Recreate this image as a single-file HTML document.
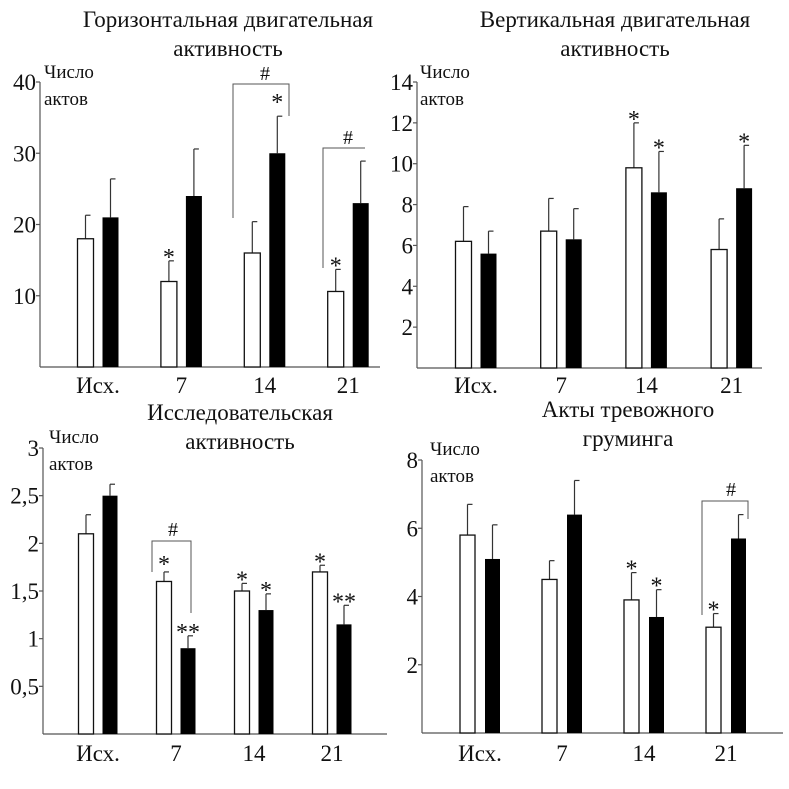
<!DOCTYPE html>
<html><head><meta charset="utf-8"><style>
html,body{margin:0;padding:0;background:#fff;}
svg{display:block;font-family:"Liberation Serif","DejaVu Serif",serif;}
</style></head><body>
<svg id="c" width="789" height="789" viewBox="0 0 789 789"></svg>
<script>
const categories = ["Исх.", "7", "14", "21"];
// Panel 1: horizontal
const p1White = [18, 12, 16, 10.6];
const p1Black = [21, 24, 30, 23];
const p1WhiteErr = [21.3, 14.9, 20.4, 13.7];
const p1BlackErr = [26.4, 30.6, 35.2, 28.9];
const p1Ticks = ["10", "20", "30", "40"];
const p1TickVals = [10, 20, 30, 40];
// Panel 2: vertical
const p2White = [6.2, 6.7, 9.8, 5.8];
const p2Black = [5.6, 6.3, 8.6, 8.8];
const p2WhiteErr = [7.9, 8.3, 12.0, 7.3];
const p2BlackErr = [6.7, 7.8, 10.6, 10.9];
const p2Ticks = ["2", "4", "6", "8", "10", "12", "14"];
const p2TickVals = [2, 4, 6, 8, 10, 12, 14];
// Panel 3: exploratory
const p3White = [2.1, 1.6, 1.5, 1.7];
const p3Black = [2.5, 0.9, 1.3, 1.15];
const p3WhiteErr = [2.3, 1.7, 1.58, 1.77];
const p3BlackErr = [2.62, 1.03, 1.47, 1.35];
const p3Ticks = ["0,5", "1", "1,5", "2", "2,5", "3"];
const p3TickVals = [0.5, 1, 1.5, 2, 2.5, 3];
// Panel 4: grooming
const p4White = [5.8, 4.5, 3.9, 3.1];
const p4Black = [5.1, 6.4, 3.4, 5.7];
const p4WhiteErr = [6.7, 5.05, 4.7, 3.5];
const p4BlackErr = [6.1, 7.4, 4.2, 6.4];
const p4Ticks = ["2", "4", "6", "8"];
const p4TickVals = [2, 4, 6, 8];

const svg = document.getElementById('c');
const NS = "http://www.w3.org/2000/svg";
function el(tag, attrs, text){
  const e = document.createElementNS(NS, tag);
  for (const k in attrs) e.setAttribute(k, attrs[k]);
  if (text !== undefined) e.textContent = text;
  svg.appendChild(e);
  return e;
}
function txt(x,y,s,size,anchor,name){
  const t = el('text',{x:x,y:y,'font-size':size,'text-anchor':anchor||'middle',fill:'#111'},s);
  
  
  return t;
}
function line(x1,y1,x2,y2,name,col){
  const l = el('line',{x1:x1,y1:y1,x2:x2,y2:y2,stroke:col||'#333','stroke-width':1.2});
  
  
  return l;
}

function panel(cfg){
  const yS = v => cfg.y0 - (v / cfg.max) * (cfg.y0 - cfg.yTop);
  const p = cfg.id;
  line(cfg.ax, cfg.yTop, cfg.ax, cfg.y0, p+'-y-axis', '#555');
  line(cfg.ax, cfg.y0, cfg.axEnd, cfg.y0, p+'-x-axis', '#555');
  cfg.tickVals.forEach((v,i)=>{
    line(cfg.ax-4, yS(v), cfg.ax, yS(v), p+'-y-tick', '#555');
    txt(cfg.ax-4, yS(v)+8, cfg.ticks[i], 23, 'end', p+'-y-tick-label');
  });
  txt(cfg.lx, cfg.ly, 'Число', 19, 'start', p+'-y-axis-title');
  txt(cfg.lx, cfg.ly+27, 'актов', 19, 'start', p+'-y-axis-title');
  txt(cfg.tx, cfg.ty, cfg.title[0], 23, 'middle', p+'-title');
  txt(cfg.tx, cfg.ty+29, cfg.title[1], 23, 'middle', p+'-title');
  categories.forEach((c,i)=>{
    const gx = cfg.g0 + i*cfg.gs;
    const bw = cfg.bw;
    const wx = gx - cfg.off - bw/2, bx = gx + cfg.off - bw/2;
    const wv = cfg.white[i], bv = cfg.black[i];
    line(wx+bw/2, yS(wv), wx+bw/2, yS(cfg.whiteErr[i]), p+'-error-white', '#333');
    line(wx+bw/2, yS(cfg.whiteErr[i]), wx+bw/2+5, yS(cfg.whiteErr[i]), p+'-error-cap', '#333');
    const r1 = el('rect',{x:wx,y:yS(wv),width:bw,height:cfg.y0-yS(wv),fill:'#fff',stroke:'#111','stroke-width':1.3});
    
    
    line(bx+bw/2, yS(bv), bx+bw/2, yS(cfg.blackErr[i]), p+'-error-black', '#333');
    line(bx+bw/2, yS(cfg.blackErr[i]), bx+bw/2+5, yS(cfg.blackErr[i]), p+'-error-cap', '#333');
    const r2 = el('rect',{x:bx,y:yS(bv),width:bw,height:cfg.y0-yS(bv),fill:'#000'});
    
    
    txt(gx, cfg.xly, c, 23, 'middle', p+'-x-tick-label');
    (cfg.stars||[]).forEach(s=>{
      if (s[0]!==i) return;
      const cx = s[1]==='w' ? wx+bw/2 : bx+bw/2;
      const top = s[1]==='w' ? cfg.whiteErr[i] : cfg.blackErr[i];
      txt(cx, yS(top)+4+(s[3]||0), s[2], 24, 'middle', p+'-significance-star');
    });
  });
  (cfg.brackets||[]).forEach(b=>{
    const pl = el('polyline',{points:b.pts,fill:'none',stroke:'#555','stroke-width':1});
    
    
    txt(b.hx, b.hy, '#', 20, 'middle', p+'-hash-mark');
  });
}

panel({id:'horizontal',ax:40,axEnd:380,yTop:82,y0:367,max:40,ticks:p1Ticks,tickVals:p1TickVals,
  white:p1White,black:p1Black,whiteErr:p1WhiteErr,blackErr:p1BlackErr,
  g0:98,gs:83.4,off:12.5,bw:16,xly:393,lx:44,ly:78,tx:228,ty:27,
  title:['Горизонтальная двигательная','активность'],
  stars:[[1,'w','*',0],[2,'b','*',-10],[3,'w','*',0]],
  brackets:[{pts:'233,218 233,84 289,84 289,116',hx:265,hy:80},{pts:'323,268 323,148 365,148',hx:348,hy:144}]});
panel({id:'vertical',ax:417,axEnd:762,yTop:82,y0:368,max:14,ticks:p2Ticks,tickVals:p2TickVals,
  white:p2White,black:p2Black,whiteErr:p2WhiteErr,blackErr:p2BlackErr,
  g0:476,gs:85.2,off:12.5,bw:16,xly:393,lx:420,ly:78,tx:615,ty:27,
  title:['Вертикальная двигательная','активность'],
  stars:[[2,'w','*',0],[2,'b','*',0],[3,'b','*',0]]});
panel({id:'exploratory',ax:43,axEnd:387,yTop:448,y0:734,max:3,ticks:p3Ticks,tickVals:p3TickVals,
  white:p3White,black:p3Black,whiteErr:p3WhiteErr,blackErr:p3BlackErr,
  g0:98,gs:78,off:12,bw:15,xly:761,lx:49,ly:443,tx:240,ty:420,
  title:['Исследовательская','активность'],
  stars:[[1,'w','*',-4],[1,'b','**',0],[2,'w','*',0],[2,'b','*',0],[3,'w','*',0],[3,'b','**',0]],
  brackets:[{pts:'152,572 152,541 191,541 191,613',hx:173,hy:536}]});
panel({id:'grooming',ax:422,axEnd:783,yTop:460,y0:733,max:8,ticks:p4Ticks,tickVals:p4TickVals,
  white:p4White,black:p4Black,whiteErr:p4WhiteErr,blackErr:p4BlackErr,
  g0:480,gs:82,off:12.5,bw:15,xly:761,lx:430,ly:455,tx:628,ty:417,
  title:['Акты тревожного','груминга'],
  stars:[[2,'w','*',0],[2,'b','*',0],[3,'w','*',0]],
  brackets:[{pts:'702,615 702,501 748,501 748,519',hx:731,hy:496}]});
</script>
</body></html>
